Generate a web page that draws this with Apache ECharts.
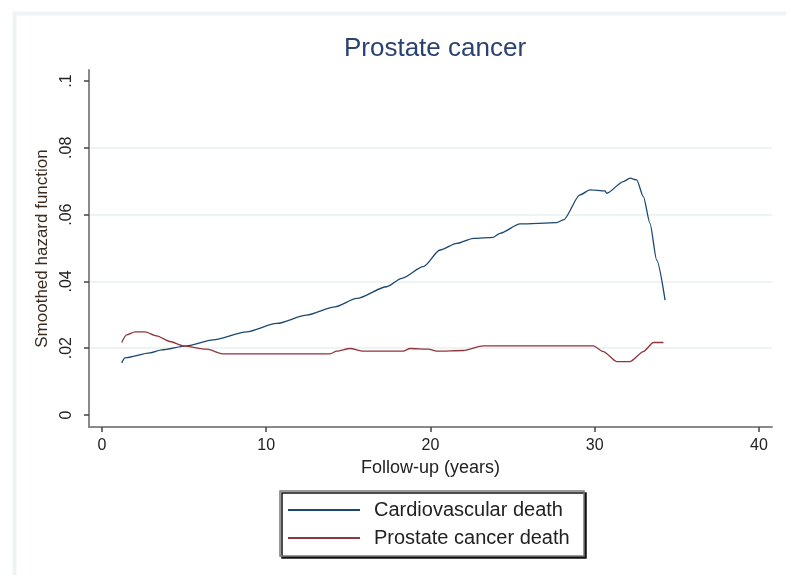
<!DOCTYPE html>
<html>
<head>
<meta charset="utf-8">
<script src="https://cdn.jsdelivr.net/npm/echarts@6/dist/echarts.min.js"></script>
<style>
html,body{margin:0;padding:0;background:#fff;}
#chart{width:786px;height:575px;}
</style>
</head>
<body>
<div id="chart"></div>
<script>
const titleText = 'Prostate cancer';
const xName = 'Follow-up (years)';
const yName = 'Smoothed hazard function';
const seriesNames = ['Cardiovascular death', 'Prostate cancer death'];
const xTicks = [0, 10, 20, 30, 40];
const yTicks = [0, 0.02, 0.04, 0.06, 0.08, 0.1];
const yTickLabels = ['0', '.02', '.04', '.06', '.08', '.1'];
const gridValues = [0.02, 0.04, 0.06, 0.08];

const cvdTime = [1.20, 1.40, 2.92, 3.63, 5.16, 6.76, 8.81, 10.64, 12.46, 14.19, 15.51, 17.33, 18.25, 19.56, 20.58, 21.60, 22.61, 23.82, 24.23, 25.45, 27.68, 28.09, 29.10, 29.71, 30.62, 30.73, 31.74, 32.15, 32.55, 32.96, 33.36, 33.77, 34.28];
const cvdHazard = [0.0156, 0.0171, 0.0186, 0.0195, 0.0207, 0.0225, 0.0249, 0.0274, 0.0299, 0.0324, 0.0349, 0.0384, 0.0409, 0.0444, 0.0494, 0.0514, 0.0529, 0.0532, 0.0544, 0.0572, 0.0576, 0.0584, 0.0659, 0.0674, 0.0671, 0.0664, 0.0699, 0.0709, 0.0704, 0.0654, 0.0574, 0.0464, 0.0344];

const pcdTime = [1.20, 1.50, 2.01, 2.62, 3.33, 4.14, 4.95, 6.37, 7.39, 13.88, 14.29, 15.10, 15.91, 18.34, 18.75, 19.87, 20.38, 22.00, 23.21, 29.91, 30.52, 31.34, 32.15, 32.96, 33.57, 34.18];
const pcdHazard = [0.0217, 0.0240, 0.0249, 0.0249, 0.0237, 0.0220, 0.0207, 0.0197, 0.0183, 0.0183, 0.0191, 0.0199, 0.0191, 0.0191, 0.0199, 0.0197, 0.0191, 0.0193, 0.0207, 0.0207, 0.0190, 0.0160, 0.0160, 0.0190, 0.0217, 0.0217];

const pairs = (xs, ys) => xs.map((x, i) => [x, ys[i]]);
const FONT = 'Liberation Sans, Arial, sans-serif';

const chart = echarts.init(document.getElementById('chart'), null, {renderer: 'canvas'});
chart.setOption({
  backgroundColor: '#ffffff',
  animation: false,
  title: {
    text: titleText,
    left: 430,
    top: 31,
    textAlign: 'center',
    textStyle: {fontFamily: FONT, fontSize: 26, fontWeight: 'normal', color: '#2a4270'}
  },
  graphic: [{
    type: 'rect',
    shape: {x: 14.5, y: 13.5, width: 800, height: 600},
    style: {fill: 'none', stroke: '#eef3f5', lineWidth: 4},
    silent: true,
    z: -10
  }],
  grid: {left: 89, right: 14, top: 70, bottom: 148},
  xAxis: {
    type: 'value',
    min: -0.79,
    max: 40.79,
    name: xName,
    nameLocation: 'middle',
    nameGap: 28,
    nameTextStyle: {fontFamily: FONT, fontSize: 18, color: '#222'},
    axisLine: {onZero: false, lineStyle: {color: '#8a8a8a', width: 2}},
    axisTick: {show: true, length: 5, customValues: xTicks, lineStyle: {color: '#444', width: 1.5}},
    axisLabel: {customValues: xTicks, margin: 11, fontFamily: FONT, fontSize: 16, color: '#222'},
    splitLine: {show: false}
  },
  yAxis: {
    type: 'value',
    min: -0.0036,
    max: 0.1033,
    name: yName,
    nameLocation: 'middle',
    nameGap: 35,
    nameTextStyle: {fontFamily: FONT, fontSize: 17, color: '#3a2a20'},
    axisLine: {show: true, onZero: false, lineStyle: {color: '#8a8a8a', width: 2}},
    axisTick: {show: true, length: 5, customValues: yTicks, lineStyle: {color: '#444', width: 1.5}},
    axisLabel: {
      customValues: yTicks,
      rotate: 90,
      margin: 14,
      fontFamily: FONT,
      fontSize: 16,
      color: '#222',
      formatter: function (v) {
        let best = 0;
        yTicks.forEach((t, i) => { if (Math.abs(t - v) < Math.abs(yTicks[best] - v)) best = i; });
        return yTickLabels[best];
      }
    },
    splitLine: {show: false}
  },
  legend: {
    data: seriesNames,
    orient: 'vertical',
    left: 280,
    top: 491,
    icon: 'rect',
    itemWidth: 72,
    itemHeight: 2,
    itemGap: 8,
    padding: [9, 10, 8, 8],
    backgroundColor: '#ffffff',
    borderColor: '#7a7a7a',
    borderWidth: 1.5,
    borderRadius: 0,
    shadowColor: '#111',
    shadowBlur: 0,
    shadowOffsetX: 2,
    shadowOffsetY: 2,
    selectedMode: false,
    textStyle: {fontFamily: FONT, fontSize: 20, lineHeight: 18, color: '#222', width: 200, padding: [0, 0, 0, 9]}
  },
  series: [
    {
      name: 'gridlines',
      type: 'line',
      data: [],
      silent: true,
      z: 0,
      markLine: {
        silent: true,
        z: 0,
        symbol: ['none', 'none'],
        label: {show: false},
        lineStyle: {color: '#e8f0f1', width: 1.5, type: 'solid'},
        data: gridValues.map(v => ({yAxis: v}))
      }
    },
    {
      name: seriesNames[0],
      type: 'line',
      data: pairs(cvdTime, cvdHazard),
      showSymbol: false,
      symbol: 'none',
      smooth: 0.25,
      smoothMonotone: 'x',
      z: 5,
      color: '#1a476f',
      lineStyle: {color: '#1a476f', width: 1.3}
    },
    {
      name: seriesNames[1],
      type: 'line',
      data: pairs(pcdTime, pcdHazard),
      showSymbol: false,
      symbol: 'none',
      smooth: 0.25,
      smoothMonotone: 'x',
      z: 5,
      color: '#90353b',
      lineStyle: {color: '#90353b', width: 1.3}
    }
  ]
});
</script>
</body>
</html>
